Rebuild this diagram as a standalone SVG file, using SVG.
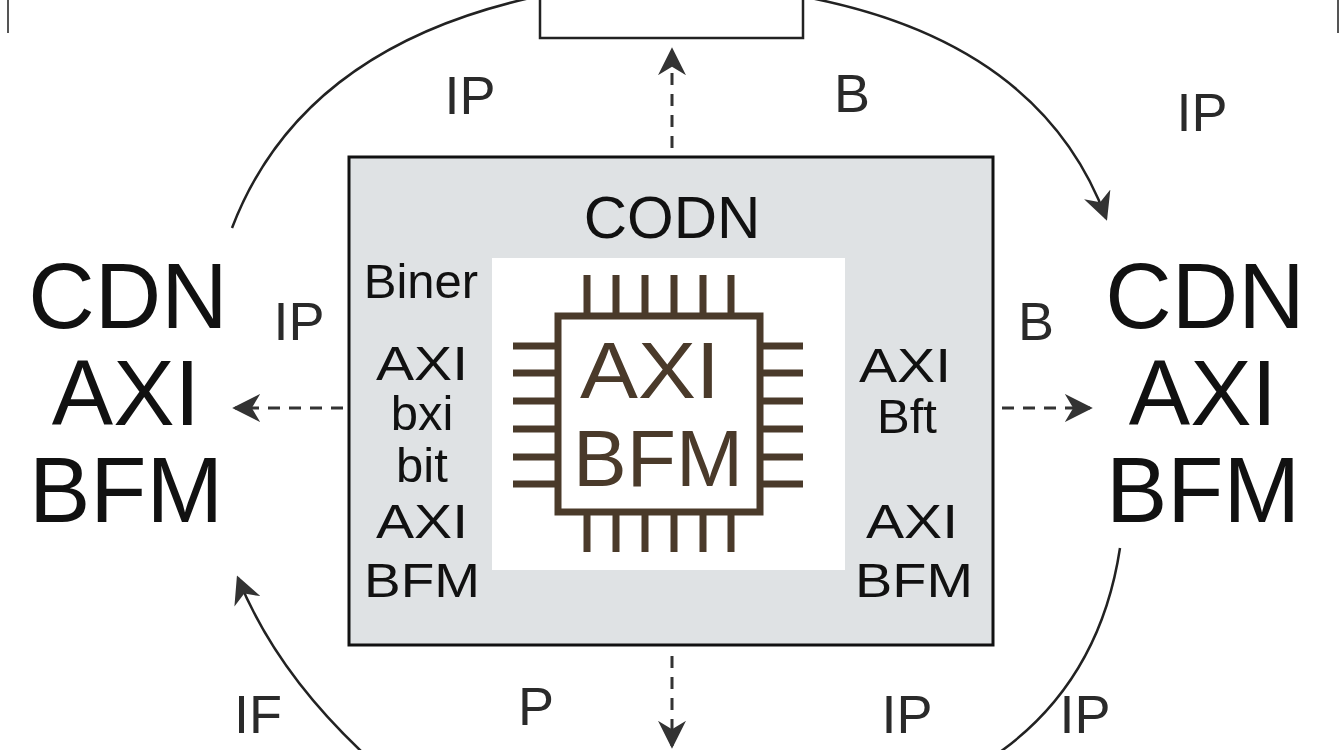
<svg xmlns="http://www.w3.org/2000/svg" width="1344" height="750" viewBox="0 0 1344 750">
<style>
text{font-family:"Liberation Sans",Arial,sans-serif;fill:#111;text-anchor:middle}
.lbl{font-size:54px;fill:#2a2a2a}
.big{font-size:92px}
.mid{font-size:49px}
.chip{font-size:80px;fill:#4a3a2a}
.arc{fill:none;stroke:#222;stroke-width:2.5}
.dash{fill:none;stroke:#333;stroke-width:3;stroke-dasharray:12 9}
.pin{stroke:#4a3a2a;stroke-width:7}
</style>
<defs>
<marker id="ahb" viewBox="0 0 10 10" refX="9" refY="5" markerWidth="28" markerHeight="28" markerUnits="userSpaceOnUse" orient="auto"><path d="M0,0L10,5L0,10L3,5z" fill="#333"/></marker>
</defs>
<rect width="1344" height="750" fill="#fff"/>
<g id="connectors">
<path class="arc" d="M232,228 Q300,50 530,-2"/>
<path class="arc" d="M800,-4 Q1040,40 1106,218" marker-end="url(#ahb)"/>
<path class="arc" d="M362,752 Q275,670 238,578" marker-end="url(#ahb)"/>
<path class="arc" d="M1120,548 Q1100,680 1000,752"/>
<line class="dash" x1="672" y1="148" x2="672" y2="50" marker-end="url(#ahb)"/>
<line class="dash" x1="343" y1="408" x2="235" y2="408" marker-end="url(#ahb)"/>
<line class="dash" x1="1002" y1="408" x2="1090" y2="408" marker-end="url(#ahb)"/>
<line class="dash" x1="672" y1="656" x2="672" y2="746" marker-end="url(#ahb)"/>
<line x1="8" y1="0" x2="8" y2="33" stroke="#555" stroke-width="2"/>
<line x1="1338" y1="0" x2="1338" y2="33" stroke="#555" stroke-width="2"/>
</g>
<g id="top-node"><rect x="540" y="-10" width="263" height="48" fill="#fff" stroke="#222" stroke-width="2.5"/></g>
<g id="main">
<rect x="349" y="157" width="644" height="488" fill="#dfe2e4" stroke="#111" stroke-width="3"/>
<rect x="492" y="258" width="353" height="312" fill="#fff"/>
<text x="672" y="238" style="font-size:60px">CODN</text>
<text x="421" y="298" style="font-size:49px">Biner</text>
<text x="422" y="380" class="mid" textLength="92" lengthAdjust="spacingAndGlyphs">AXI</text>
<text x="422" y="430" class="mid">bxi</text>
<text x="422" y="482" class="mid">bit</text>
<text x="422" y="538" class="mid" textLength="92" lengthAdjust="spacingAndGlyphs">AXI</text>
<text x="422" y="597" class="mid" textLength="116" lengthAdjust="spacingAndGlyphs">BFM</text>
<text x="905" y="382" class="mid" textLength="92" lengthAdjust="spacingAndGlyphs">AXI</text>
<text x="907" y="433" class="mid">Bft</text>
<text x="912" y="538" class="mid" textLength="92" lengthAdjust="spacingAndGlyphs">AXI</text>
<text x="914" y="597" class="mid" textLength="118" lengthAdjust="spacingAndGlyphs">BFM</text>
</g>
<g id="chip">
<rect x="558" y="316" width="202" height="196" fill="#fff" stroke="#4a3a2a" stroke-width="7"/>
<path class="pin" d="M587,275V316M616,275V316M645,275V316M674,275V316M703,275V316M731,275V316M587,512V552M616,512V552M645,512V552M674,512V552M703,512V552M731,512V552M513,346H558M513,373H558M513,401H558M513,429H558M513,457H558M513,484H558M760,346H803M760,373H803M760,401H803M760,429H803M760,457H803M760,484H803"/>
<text x="650" y="398" class="chip" textLength="140" lengthAdjust="spacingAndGlyphs">AXI</text>
<text x="658" y="486" class="chip" textLength="170" lengthAdjust="spacingAndGlyphs">BFM</text>
</g>
<g id="left-node">
<text x="128" y="328" class="big">CDN</text>
<text x="126" y="425" class="big">AXI</text>
<text x="126" y="522" class="big">BFM</text>
</g>
<g id="right-node">
<text x="1205" y="328" class="big">CDN</text>
<text x="1203" y="425" class="big">AXI</text>
<text x="1203" y="522" class="big">BFM</text>
</g>
<g id="labels">
<text x="470" y="114" class="lbl">IP</text>
<text x="852" y="112" class="lbl">B</text>
<text x="1202" y="131" class="lbl">IP</text>
<text x="299" y="340" class="lbl">IP</text>
<text x="1036" y="340" class="lbl">B</text>
<text x="258" y="733" class="lbl">IF</text>
<text x="536" y="725" class="lbl">P</text>
<text x="907" y="733" class="lbl">IP</text>
<text x="1085" y="733" class="lbl">IP</text>
</g>
</svg>
